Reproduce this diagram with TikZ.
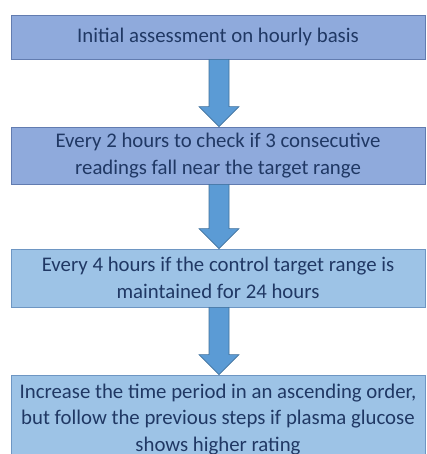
\documentclass[tikz,border=0pt]{standalone}
\usepackage{fontspec}
\setmainfont{Carlito}
\usetikzlibrary{calc}
\definecolor{boxA}{RGB}{143,170,220}
\definecolor{boxAline}{RGB}{98,124,176}
\definecolor{boxB}{RGB}{157,195,230}
\definecolor{boxBline}{RGB}{110,150,195}
\definecolor{arrowfill}{RGB}{91,155,213}
\definecolor{arrowline}{RGB}{65,113,156}
\definecolor{txt}{RGB}{32,56,100}
\begin{document}
\begin{tikzpicture}[x=1pt,y=1pt,
  stepbox/.style={rectangle, minimum width=414pt, inner sep=0pt, align=center,
    text=txt, font=\fontsize{20.8}{26.5}\selectfont, line width=0.8pt},
  boxa/.style={stepbox, fill=boxA, draw=boxAline},
  boxb/.style={stepbox, fill=boxB, draw=boxBline},
  barrow/.style={fill=arrowfill, draw=arrowline, line width=0.6pt}]
\useasboundingbox (0,0) rectangle (426,454);
\node[boxa, minimum height=44pt] (b1) at (218,417) {Initial assessment on hourly basis};
\node[boxa, minimum height=57pt] (b2) at (218,298.5) {Every 2 hours to check if 3 consecutive\\readings fall near the target range};
\node[boxb, minimum height=58pt] (b3) at (218,176) {Every 4 hours if the control target range is\\maintained for 24 hours};
\node[boxb, minimum height=89pt] (b4) at (218,34.5) {Increase the time period in an ascending order,\\but follow the previous steps if plasma glucose\\shows higher rating};
\foreach \u/\v in {b1/b2, b2/b3, b3/b4}{
  \draw[barrow] ($(\u.south)+(-9,0)$) -- ($(\v.north)+(-9,20)$) -- ($(\v.north)+(-19,20)$)
    -- ($(\v.north)+(1,0)$) -- ($(\v.north)+(21,20)$) -- ($(\v.north)+(11,20)$)
    -- ($(\u.south)+(11,0)$) -- cycle;
}
\end{tikzpicture}
\end{document}
